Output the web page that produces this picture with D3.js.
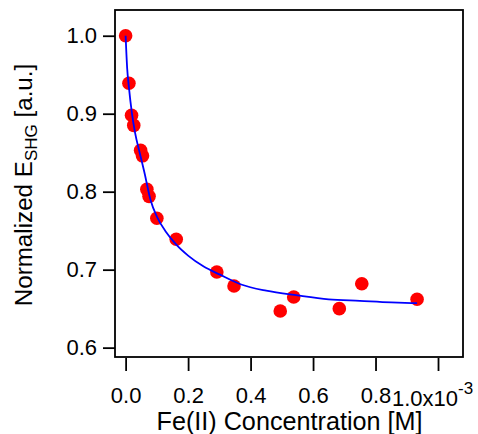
<!DOCTYPE html>
<html>
<head>
<meta charset="utf-8">
<script src="https://cdn.jsdelivr.net/npm/d3@7"></script>
<style>
  body { margin: 0; background: #fff; }
  svg { display: block; font-family: "Liberation Sans", Arial, sans-serif; }
</style>
</head>
<body>
<svg id="chart" width="478" height="434"></svg>
<script>
const width = 478;
const height = 434;

// Fe(II) concentration in units of 1e-3 M, normalized E_SHG
const concX = [0.0, 0.0106, 0.019, 0.026, 0.048, 0.054, 0.068, 0.075, 0.100, 0.162,
  0.292, 0.347, 0.495, 0.538, 0.684, 0.756, 0.933];
const eshgY = [1.0, 0.939, 0.898, 0.885, 0.853, 0.846, 0.803, 0.794, 0.766, 0.739,
  0.697, 0.679, 0.647, 0.665, 0.650, 0.682, 0.662];

// fitted curve
const fitX = [0, 0.005, 0.01, 0.02, 0.03, 0.045, 0.06, 0.08, 0.1, 0.13, 0.16, 0.2,
  0.25, 0.3, 0.37, 0.45, 0.55, 0.65, 0.75, 0.85, 0.933];
const fitY = [1.0, 0.958, 0.936, 0.901, 0.876, 0.850, 0.825, 0.789, 0.768, 0.748, 0.733, 0.718,
  0.704, 0.694, 0.681, 0.673, 0.667, 0.662, 0.660, 0.658, 0.657];

const xTicks = [0, 0.2, 0.4, 0.6, 0.8, 1.0];
const yTicks = [0.6, 0.7, 0.8, 0.9, 1.0];

const svg = d3.select("svg#chart");

const x = d3.scaleLinear().domain([-0.034, 1.08]).range([115, 463]);
const y = d3.scaleLinear().domain([0.588, 1.033]).range([357, 10]);

// plot frame
svg.append("rect")
  .attr("x", x.range()[0])
  .attr("y", y.range()[1])
  .attr("width", x.range()[1] - x.range()[0])
  .attr("height", y.range()[0] - y.range()[1])
  .attr("fill", "none")
  .attr("stroke", "#000")
  .attr("stroke-width", 1.8);

// x axis
const xAxis = svg.append("g")
  .attr("transform", `translate(0,${y.range()[0] + 1})`)
  .call(d3.axisBottom(x).tickValues(xTicks).tickSize(13).tickPadding(16)
    .tickFormat(d => d === 1 ? "" : d3.format(".1f")(d)));
xAxis.select(".domain").remove();
xAxis.selectAll(".tick line").attr("stroke", "#000").attr("stroke-width", 1.8);
xAxis.selectAll(".tick text")
  .attr("fill", "#000")
  .attr("font-size", 22)
  .attr("font-family", "Liberation Sans, Arial, sans-serif");

// exponent label on the last x tick
const expLabel = svg.append("text")
  .attr("x", x(1) - 46)
  .attr("y", 406)
  .attr("font-size", 22)
  .attr("fill", "#000");
expLabel.append("tspan").text("1.0x10");
expLabel.append("tspan").attr("font-size", 17).attr("dy", -12).text("-3");

// y axis
const yAxis = svg.append("g")
  .attr("transform", `translate(${x.range()[0]},0)`)
  .call(d3.axisLeft(y).tickValues(yTicks).tickSize(12).tickPadding(6)
    .tickFormat(d3.format(".1f")));
yAxis.select(".domain").remove();
yAxis.selectAll(".tick line").attr("stroke", "#000").attr("stroke-width", 1.8);
yAxis.selectAll(".tick text")
  .attr("fill", "#000")
  .attr("font-size", 22)
  .attr("font-family", "Liberation Sans, Arial, sans-serif");

// axis titles
svg.append("text")
  .attr("x", 289.5)
  .attr("y", 429.5)
  .attr("text-anchor", "middle")
  .attr("font-size", 25.2)
  .attr("fill", "#000")
  .text("Fe(II) Concentration [M]");

const yLabel = svg.append("text")
  .attr("transform", "translate(31.5,185) rotate(-90)")
  .attr("text-anchor", "middle")
  .attr("font-size", 24.2)
  .attr("fill", "#000");
yLabel.append("tspan").text("Normalized E");
yLabel.append("tspan").attr("font-size", 17).attr("dy", 5).text("SHG");
yLabel.append("tspan").attr("dy", -5).text(" [a.u.]");

// data points
const points = concX.map((d, i) => ({ x: d, y: eshgY[i] }));
svg.append("g")
  .selectAll("circle")
  .data(points)
  .join("circle")
  .attr("cx", d => x(d.x))
  .attr("cy", d => y(d.y))
  .attr("r", 6.8)
  .attr("fill", "#ff0000");

// fit line
const fit = fitX.map((d, i) => [d, fitY[i]]);
svg.append("path")
  .datum(fit)
  .attr("fill", "none")
  .attr("stroke", "#0000ff")
  .attr("stroke-width", 1.8)
  .attr("d", d3.line().x(d => x(d[0])).y(d => y(d[1])).curve(d3.curveMonotoneX));
</script>
</body>
</html>
